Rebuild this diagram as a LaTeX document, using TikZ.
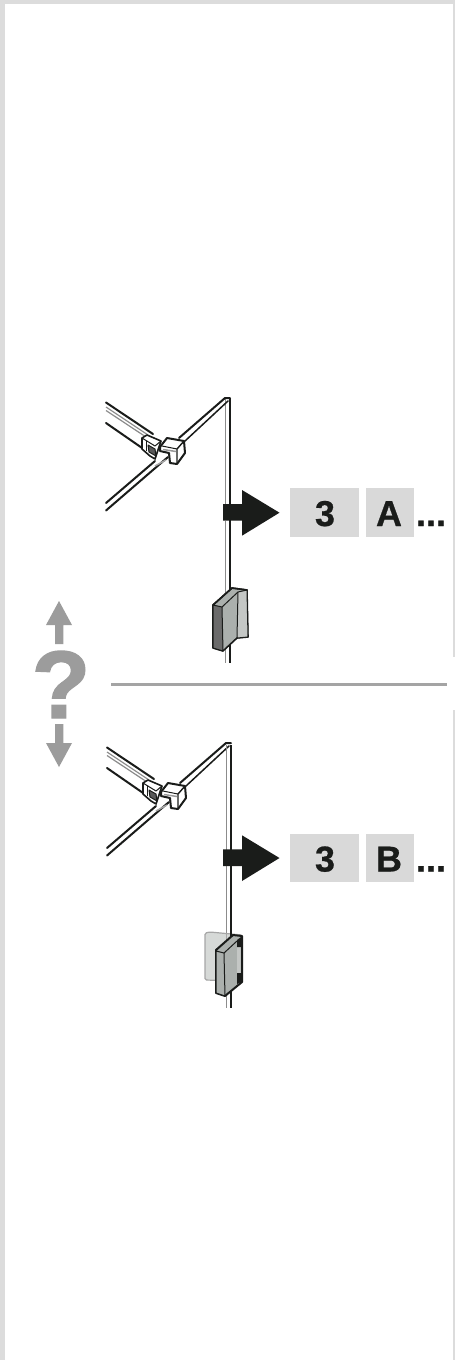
\documentclass[tikz,border=0pt]{standalone}
\usepackage{fontspec}
\setmainfont{Liberation Sans}
\newfontfamily\heavyfont[FakeBold=0.6]{Liberation Sans Bold}
\newfontfamily\queryfont[FakeBold=1.5]{Liberation Sans Bold}
\definecolor{frame}{HTML}{DCDCDC}
\definecolor{tile}{HTML}{D9D9D9}
\definecolor{ink}{HTML}{1A1C1A}
\definecolor{rulegray}{HTML}{A4A4A4}
\definecolor{hintgray}{HTML}{9C9C9C}
\definecolor{steel}{HTML}{ABB0AD}
\definecolor{steellight}{HTML}{C4C7C5}
\definecolor{ghost}{HTML}{D6D9D7}
\tikzset{
  blackline/.style={draw=ink,line width=2pt,line join=round,line cap=round},
  tilebox/.style={fill=tile,draw=none},
  tiletext/.style={font=\fontsize{36}{36}\selectfont\heavyfont,text=ink,inner sep=0pt,anchor=base},
  thinedge/.style={draw=ink,line width=1pt,line join=round},
  greyline/.style={draw=black!45,line width=1.2pt},
}
\newcommand{\hingepart}{%
  % rail going to the upper left
  \draw[blackline] (106,402.5) -- (153,434);
  \draw[greyline] (106,407) -- (148,435);
  \draw[greyline] (106,410.5) -- (146,437);
  \draw[blackline] (106,423) -- (145,450);
  % clip
  \filldraw[fill=white,blackline,line width=1.6pt] (142,438) -- (147,435) -- (161,441) -- (158,450) -- (155,459) -- (150,456) -- (142,449) -- cycle;
  \draw[thinedge] (142,438) -- (155,446) -- (161,441);
  \draw[thinedge,fill=black!65] (148,445) -- (155,449) -- (156,456) -- (149,452) -- cycle;
  \draw[thinedge] (146,441) -- (146,451);
  % rod going to the lower left
  \draw[blackline] (106,503) -- (155,461);
  \draw[blackline] (106,510.5) -- (168,457);
  \draw[draw=black!35,line width=1.5pt] (155,466) -- (166,460);
  % rod going to the upper right
  \draw[blackline] (179,438) -- (225,398) -- (230,398);
  \draw[blackline,line width=1.5pt] (185,441) -- (228,401);
  % block
  \filldraw[fill=white,blackline] (160,447) -- (167,438) -- (184,441) -- (185,453) -- (177,464) -- (170,463) -- (169,453) -- (160,451) -- cycle;
  \draw[thinedge,line width=1.4pt] (184,441) -- (177,449) -- (177,464);
  \draw[thinedge] (177,449) -- (162,446);
  \draw[draw=black!40,line width=1.5pt] (163,449.5) -- (176,451.5);
}
\newcommand{\bigarrow}{%
  \fill[ink] (223,504) -- (242,504) -- (242,490) -- (279.5,512.7) -- (242,535.7) -- (242,520.7) -- (223,520.7) -- cycle;
}
\begin{document}
\begin{tikzpicture}[x=1pt,y=-1pt]
\useasboundingbox (0,0) rectangle (455,1360);
\fill[white] (0,0) rectangle (455,1360);
% page frame
\fill[frame] (0,0) rectangle (455,4);
\fill[frame] (0,0) rectangle (5,1360);
\fill[frame] (453,0) rectangle (455,657);
\fill[frame] (453,710) rectangle (455,1360);
% upper variant
\draw[greyline] (225.5,398) -- (225.5,505);
\draw[greyline] (225.5,521) -- (225.5,663);
\draw[draw=ink,line width=2pt] (230,398) -- (230,663);
\hingepart
\bigarrow
\fill[tilebox] (290,488) rectangle (359,537);
\fill[tilebox] (366,488) rectangle (414,537);
\node[tiletext] (threeA) at (325,526) {3};
\node[tiletext] (letterA) at (389,526) {A};
\node[tiletext] (dotsA) at (431,526) {...};
% bracket, upper variant
\filldraw[fill=steel,blackline,line width=1.6pt] (213,605) -- (232,588) -- (247,590) -- (248,637) -- (237,638) -- (223,651) -- (213,648) -- cycle;
\filldraw[fill=black!58,thinedge] (213,605) -- (222,607) -- (223,651) -- (213,648) -- cycle;
\filldraw[fill=steellight,thinedge] (238,592) -- (247,590) -- (248,637) -- (237,638) -- cycle;
\draw[thinedge] (222,607) -- (238,592);
\draw[blackline,line width=1.6pt] (213,605) -- (232,588) -- (247,590);
% separator
\draw[draw=rulegray,line width=3pt] (111,684) -- (447,684);
% question mark and its arrows
\fill[hintgray] (59,601) -- (72,625) -- (63.3,625) -- (63.3,644) -- (55,644) -- (55,625) -- (46,625) -- cycle;
\fill[hintgray] (59,767) -- (72,743) -- (63.3,743) -- (63.3,724) -- (55,724) -- (55,743) -- (46,743) -- cycle;
\node[font=\fontsize{96}{96}\selectfont\queryfont,text=hintgray,inner sep=0pt,anchor=base] (query) at (61,718) {?};
% lower variant
\begin{scope}[yshift=-345pt,xshift=1pt]
\hingepart
\end{scope}
\draw[greyline] (226.5,745) -- (226.5,850);
\draw[greyline] (226.5,866) -- (226.5,1008);
\draw[draw=ink,line width=2pt] (231,745) -- (231,1008);
\begin{scope}[yshift=-345.3pt]
\bigarrow
\end{scope}
\fill[tilebox] (290,834) rectangle (359,882);
\fill[tilebox] (366,834) rectangle (414,882);
\node[tiletext] (threeB) at (325,871.5) {3};
\node[tiletext] (letterB) at (389,871.5) {B};
\node[tiletext] (dotsB) at (431,871.5) {...};
% bracket, lower variant
\filldraw[fill=ghost,draw=black!35,line width=1.2pt,rounded corners=1.5pt] (205,933) -- (210,932) -- (242,935) -- (242,981) -- (205,980) -- cycle;
\draw[draw=black!35,line width=1.2pt] (226.5,933) -- (226.5,945);
\draw[draw=ink,line width=2pt] (231,930) -- (231,940);
\filldraw[fill=steel,blackline,line width=2pt] (216,950) -- (233,935) -- (242,936) -- (242,982) -- (225,996) -- (216,993) -- cycle;
\filldraw[fill=steel,thinedge] (216,951) -- (224,953) -- (225,996) -- (216,993) -- cycle;
\fill[steellight] (237,941) -- (240.5,938) -- (240.5,980) -- (237,983) -- cycle;
\fill[ink] (237,940) -- (241,937) -- (241,947) -- (237,947) -- cycle;
\fill[ink] (237,973) -- (241,973) -- (241,982) -- (237,984) -- cycle;
\draw[thinedge] (224,953) -- (237,941);
\end{tikzpicture}
\end{document}
